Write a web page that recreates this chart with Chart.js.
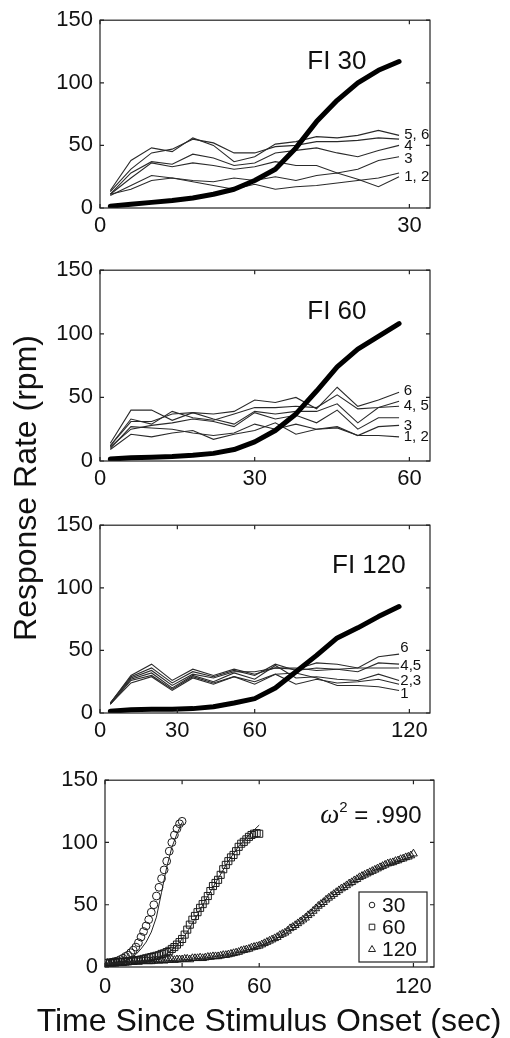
<!DOCTYPE html>
<html>
<head>
<meta charset="utf-8">
<script src="https://cdn.jsdelivr.net/npm/chart.js@4.4.1/dist/chart.umd.min.js"></script>
<style>
  body { margin: 0; background: #fff; }
  #wrap { position: relative; width: 510px; height: 1038px; overflow: hidden; background: #fff; }
  canvas { position: absolute; left: 0; }
  .axtitle {
    position: absolute; height: 40px; line-height: 40px; text-align: center; color: #111;
    font: 32px 'Liberation Sans', Arial, sans-serif; white-space: nowrap;
  }
  #ylabel { left: -173px; top: 468px; width: 400px; transform: rotate(-90deg); }
  #xlabel { left: 9px; top: 1002px; width: 520px; }
</style>
</head>
<body>
<div id="wrap">
  <canvas id="fi30" width="510" height="250" style="top:0px"></canvas>
  <canvas id="fi60" width="510" height="255" style="top:250px"></canvas>
  <canvas id="fi120" width="510" height="255" style="top:505px"></canvas>
  <canvas id="fits" width="510" height="278" style="top:760px"></canvas>
  <div id="ylabel" class="axtitle">Response Rate (rpm)</div>
  <div id="xlabel" class="axtitle">Time Since Stimulus Onset (sec)</div>
</div>
<script>
// ---- data ----
const yTicks = [0, 50, 100, 150];
const xTicks30 = [0, 30];
const xTicks60 = [0, 30, 60];
const xTicks120 = [0, 30, 60, 120];

// FI 30, 2-s bins
const fi30Time = [1, 3, 5, 7, 9, 11, 13, 15, 17, 19, 21, 23, 25, 27, 29];
const fi30Rats = [
  [14, 38, 48, 45, 56, 50, 37, 41, 51, 53, 57, 56, 58, 62, 58],
  [13, 31, 44, 47, 55, 52, 44, 44, 49, 50, 53, 53, 54, 56, 55],
  [11, 28, 37, 35, 43, 40, 34, 36, 44, 46, 48, 44, 41, 46, 50],
  [11, 24, 36, 33, 36, 34, 31, 33, 37, 34, 34, 28, 31, 38, 41],
  [10, 18, 26, 24, 22, 21, 24, 22, 25, 22, 26, 28, 23, 17, 25],
  [11, 15, 22, 24, 21, 18, 15, 19, 15, 17, 18, 20, 22, 24, 28]
];
const fi30Mean = [1.5, 3, 4.5, 6, 8, 11, 15, 22, 31, 48, 69, 86, 100, 110, 117];

// FI 60, 4-s bins
const fi60Time = [2, 6, 10, 14, 18, 22, 26, 30, 34, 38, 42, 46, 50, 54, 58];
const fi60Rats = [
  [14, 40, 40, 32, 38, 37, 39, 48, 46, 50, 41, 58, 43, 48, 54],
  [12, 33, 29, 39, 34, 32, 37, 42, 42, 43, 42, 52, 41, 42, 47],
  [12, 31, 31, 37, 38, 33, 29, 39, 37, 39, 39, 45, 30, 42, 43],
  [11, 25, 28, 30, 33, 31, 27, 38, 33, 36, 30, 40, 25, 34, 34],
  [10, 27, 26, 25, 22, 20, 22, 29, 25, 29, 25, 27, 20, 27, 28],
  [9, 21, 19, 22, 24, 17, 21, 24, 30, 21, 25, 26, 20, 20, 19]
];
const fi60Mean = [1.5, 2.5, 3, 3.5, 4.5, 6, 9, 15, 24, 37, 55, 74, 88, 98, 108];

// FI 120, 8-s bins
const fi120Time = [4, 12, 20, 28, 36, 44, 52, 60, 68, 76, 84, 92, 100, 108, 116];
const fi120Rats = [
  [8, 30, 39, 26, 35, 30, 35, 31, 36, 35, 40, 39, 36, 45, 47],
  [8, 29, 36, 24, 33, 29, 34, 30, 39, 34, 36, 35, 33, 40, 39],
  [8, 28, 34, 22, 31, 28, 33, 33, 36, 36, 34, 35, 36, 36, 36],
  [7, 27, 32, 20, 30, 25, 32, 27, 38, 28, 29, 27, 26, 31, 26],
  [7, 26, 30, 19, 29, 24, 29, 25, 31, 23, 27, 24, 25, 27, 23],
  [7, 24, 29, 18, 28, 23, 29, 23, 31, 32, 28, 22, 22, 21, 18]
];
const fi120Mean = [1.5, 2.5, 3, 3, 3.5, 5, 8, 11.5, 20, 33, 46, 60, 68, 77, 85];

// bottom panel: 1-s group curves and model fits
const dot30Time = [1,2,3,4,5,6,7,8,9,10,11,12,13,14,15,16,17,18,19,20,21,22,23,24,25,26,27,28,29,30];
const dot30Rate = [3.5,3.5,4,4.5,5,6,7,8.5,9.5,11.5,13.5,16,19.5,24,28.5,33,38,44,50,57,64,71,78,85,93,100,106,111,115,117];
const dot60Time = [1,2,3,4,5,6,7,8,9,10,11,12,13,14,15,16,17,18,19,20,21,22,23,24,25,26,27,28,29,30,
  31,32,33,34,35,36,37,38,39,40,41,42,43,44,45,46,47,48,49,50,51,52,53,54,55,56,57,58,59,60];
const dot60Rate = [3,3,3.5,3.5,4,4,4,4.5,4.5,5,5,5.5,5.5,6,6.5,7,7.5,8,8.5,9,9.5,10.5,11,12,13,14.5,16,18,20,22.5,
  26,30,34,38,41,44,47.5,50.5,53.5,57,61,65,67.5,70,74,78.5,82,85,88,90,93,96.5,99,100.5,102.5,104.5,106,107,107.5,107];
const dot120Time = [1,2,3,4,5,6,7,8,9,10,11,12,13,14,15,16,17,18,19,20,21,22,23,24,25,26,27,28,29,30,
  31,32,33,34,35,36,37,38,39,40,41,42,43,44,45,46,47,48,49,50,51,52,53,54,55,56,57,58,59,60,
  61,62,63,64,65,66,67,68,69,70,71,72,73,74,75,76,77,78,79,80,81,82,83,84,85,86,87,88,89,90,
  91,92,93,94,95,96,97,98,99,100,101,102,103,104,105,106,107,108,109,110,111,112,113,114,115,116,117,118,119,120];
const dot120Rate = [3,3,3.5,3,3.5,3.5,4,3.5,4,4,4,4.5,4,4.5,4.5,5,4.5,4.5,5,5,5,5.5,5,5.5,5.5,6,5.5,6,6,6,
  6.5,6.5,6,7,7,7,7.5,7,7.5,8,8,8.5,8.5,8.5,9,9.5,9.5,10,10.5,11,11.5,12,13,13.5,14,14.5,15.5,16,16.5,17,
  18,19,20,21,22,23,24,25.5,26.5,27.5,29,31,32,33.5,35,36.5,38,39.5,41.5,43,45,47,49,50.5,52,54,55.5,57,58.5,60,
  61.5,63,64,65.5,67,68,69.5,70.5,72,73,74,75,76,77,78,79,80,81,82,83,83.5,84,85,85.5,86.5,87,88,88.5,89.5,91];

const fit30Time = [0, 2, 4, 6, 8, 10, 12, 14, 16, 18, 20, 22, 24, 26, 28, 30];
const fit30Rate = [2, 2.5, 3, 4, 5, 7, 10, 14.5, 20, 28, 40, 60, 80, 96, 107, 116];
const fit60Time = [0, 4, 8, 12, 16, 20, 24, 28, 32, 36, 40, 44, 48, 52, 56, 60];
const fit60Rate = [2, 2.5, 3, 4, 5, 7, 10.5, 17, 28, 42, 57, 71, 85, 97, 106, 114];
const fit120Time = [0, 8, 16, 24, 32, 40, 48, 56, 64, 72, 80, 88, 96, 104, 112, 120];
const fit120Rate = [3, 3.5, 4, 5, 6, 7.5, 10, 14, 20, 29, 42, 56, 68, 77, 84, 89];

// ---- drawing ----
const FONT = "'Liberation Sans', Arial, Helvetica, sans-serif";
const INK = '#111';

function pts(times, vals) {
  return vals.map((v, i) => ({ x: times[i], y: v }));
}

// box round the plot with inward ticks on all four sides
const framePlugin = {
  id: 'frame',
  afterDatasetsDraw(chart) {
    const { ctx, chartArea: a, scales: { x, y } } = chart;
    const len = 4;
    ctx.save();
    ctx.strokeStyle = '#222';
    ctx.lineWidth = 1.2;
    ctx.strokeRect(a.left, a.top, a.right - a.left, a.bottom - a.top);
    ctx.beginPath();
    x.ticks.forEach(t => {
      const px = x.getPixelForValue(t.value);
      ctx.moveTo(px, a.bottom); ctx.lineTo(px, a.bottom - len);
      ctx.moveTo(px, a.top); ctx.lineTo(px, a.top + len);
    });
    y.ticks.forEach(t => {
      const py = y.getPixelForValue(t.value);
      ctx.moveTo(a.left, py); ctx.lineTo(a.left + len, py);
      ctx.moveTo(a.right, py); ctx.lineTo(a.right - len, py);
    });
    ctx.stroke();
    ctx.restore();
  }
};

// text placed at data coordinates
const notesPlugin = {
  id: 'notes',
  afterDraw(chart, args, opts) {
    const { ctx, scales: { x, y } } = chart;
    (opts.items || []).forEach(n => {
      let px = x.getPixelForValue(n.x);
      const py = y.getPixelForValue(n.y);
      ctx.save();
      ctx.fillStyle = INK;
      ctx.textAlign = 'left';
      ctx.textBaseline = n.baseline || 'middle';
      const parts = n.parts || [{ text: n.text, font: n.font }];
      parts.forEach(p => {
        ctx.font = p.font;
        ctx.fillText(p.text, px, py + (p.dy || 0));
        px += ctx.measureText(p.text).width;
      });
      ctx.restore();
    });
  }
};

// boxed legend in the lower right corner of the bottom panel
const boxLegendPlugin = {
  id: 'boxLegend',
  afterDraw(chart, args, opts) {
    if (!opts.show) return;
    const { ctx, chartArea: a } = chart;
    const w = 68, h = 70;
    const left = a.right - 7 - w, top = a.bottom - 5 - h;
    ctx.save();
    ctx.fillStyle = '#fff';
    ctx.fillRect(left, top, w, h);
    ctx.strokeStyle = '#222';
    ctx.lineWidth = 1.2;
    ctx.strokeRect(left, top, w, h);
    const rows = chart.data.datasets.filter(d => d.showLine === false);
    rows.forEach((d, i) => {
      const cy = top + 13 + i * 22, cx = left + 13;
      ctx.beginPath();
      ctx.lineWidth = 1;
      if (d.pointStyle === 'circle') ctx.arc(cx, cy, 2.8, 0, Math.PI * 2);
      else if (d.pointStyle === 'rect') ctx.rect(cx - 2.8, cy - 2.8, 5.6, 5.6);
      else { ctx.moveTo(cx, cy - 3.5); ctx.lineTo(cx + 3.5, cy + 2.5); ctx.lineTo(cx - 3.5, cy + 2.5); ctx.closePath(); }
      ctx.stroke();
      ctx.fillStyle = INK;
      ctx.font = '21px ' + FONT;
      ctx.textBaseline = 'middle';
      ctx.fillText(d.label, left + 23, cy + 1);
    });
    ctx.restore();
  }
};

function scales(xMax, xTicks, yWidth, xHeight, xPad) {
  const tickFont = { family: FONT, size: 22 };
  return {
    x: {
      type: 'linear', min: 0, max: xMax,
      afterBuildTicks: s => { s.ticks = xTicks.map(v => ({ value: v })); },
      afterFit: s => { s.height = xHeight; },
      grid: { display: false, drawTicks: false },
      border: { display: false },
      ticks: { color: INK, font: tickFont, padding: xPad, maxRotation: 0, autoSkip: false }
    },
    y: {
      type: 'linear', min: 0, max: 150,
      afterBuildTicks: s => { s.ticks = yTicks.map(v => ({ value: v })); },
      afterFit: s => { s.width = yWidth; },
      grid: { display: false, drawTicks: false },
      border: { display: false },
      ticks: { color: INK, font: tickFont, padding: 7 }
    }
  };
}

function baseOptions(padTop, padRight, sc, notes, legendShow) {
  return {
    responsive: false,
    animation: false,
    events: [],
    layout: { padding: { top: padTop, right: padRight, left: 0, bottom: 0 } },
    scales: sc,
    plugins: {
      legend: { display: false },
      tooltip: { enabled: false },
      notes: { items: notes },
      boxLegend: { show: legendShow }
    }
  };
}

function fiPanel(id, times, rats, mean, xMax, xTicks, padTop, xHeight, notes) {
  const sets = [{
    data: pts(times, mean), borderColor: '#000', borderWidth: 5,
    borderCapStyle: 'round', borderJoinStyle: 'round', pointRadius: 0
  }];
  rats.forEach(r => sets.push({
    data: pts(times, r), borderColor: '#2a2a2a', borderWidth: 1.1, pointRadius: 0
  }));
  new Chart(document.getElementById(id), {
    type: 'line',
    data: { datasets: sets },
    options: baseOptions(padTop, 80, scales(xMax, xTicks, 100, xHeight, 5), notes, false),
    plugins: [framePlugin, notesPlugin, boxLegendPlugin]
  });
}

const big = '26px ' + FONT;
const small = '15px ' + FONT;

fiPanel('fi30', fi30Time, fi30Rats, fi30Mean, 32, xTicks30, 16, 42, [
  { text: 'FI 30', font: big, x: 20.1, y: 111, baseline: 'alphabetic' },
  { text: '5, 6', font: small, x: 29.5, y: 58.5 },
  { text: '4', font: small, x: 29.5, y: 50 },
  { text: '3', font: small, x: 29.5, y: 39 },
  { text: '1, 2', font: small, x: 29.5, y: 24.5 }
]);

fiPanel('fi60', fi60Time, fi60Rats, fi60Mean, 64, xTicks60, 18, 44, [
  { text: 'FI 60', font: big, x: 40.2, y: 111.6, baseline: 'alphabetic' },
  { text: '6', font: small, x: 58.9, y: 55.5 },
  { text: '4, 5', font: small, x: 58.9, y: 43 },
  { text: '3', font: small, x: 58.9, y: 28 },
  { text: '1, 2', font: small, x: 58.9, y: 19 }
]);

fiPanel('fi120', fi120Time, fi120Rats, fi120Mean, 128, xTicks120, 17, 47, [
  { text: 'FI 120', font: big, x: 90, y: 111.5, baseline: 'alphabetic' },
  { text: '6', font: small, x: 116.5, y: 52 },
  { text: '4,5', font: small, x: 116.5, y: 37.7 },
  { text: '2,3', font: small, x: 116.5, y: 25.5 },
  { text: '1', font: small, x: 116.5, y: 15 }
]);

const fitLine = d => ({ data: d, borderColor: '#222', borderWidth: 1, pointRadius: 0 });
const marks = (label, d, style, r) => ({
  label: label, data: d, showLine: false, pointStyle: style, pointRadius: r,
  pointBorderColor: '#1a1a1a', pointBackgroundColor: 'rgba(0,0,0,0)', pointBorderWidth: 1
});

new Chart(document.getElementById('fits'), {
  type: 'line',
  data: {
    datasets: [
      fitLine(pts(fit30Time, fit30Rate)),
      fitLine(pts(fit60Time, fit60Rate)),
      fitLine(pts(fit120Time, fit120Rate)),
      marks('30', pts(dot30Time, dot30Rate), 'circle', 3.9),
      marks('60', pts(dot60Time, dot60Rate), 'rect', 5),
      marks('120', pts(dot120Time, dot120Rate), 'triangle', 4.5)
    ]
  },
  options: baseOptions(16, 76, scales(128, xTicks120, 105, 71, 7), [
    { x: 83.7, y: 115.5, baseline: 'alphabetic', parts: [
      { text: '\u03c9', font: "italic 27px 'Liberation Serif', serif" },
      { text: '2', font: '15px ' + FONT, dy: -11 },
      { text: ' = .990', font: '24px ' + FONT }
    ] }
  ], true),
  plugins: [framePlugin, notesPlugin, boxLegendPlugin]
});
</script>
</body>
</html>
